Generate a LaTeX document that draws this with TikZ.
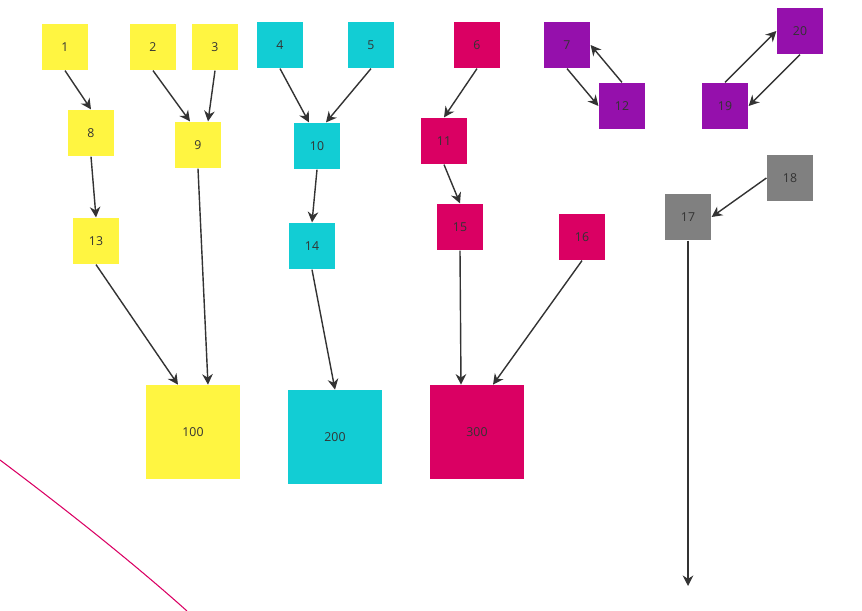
\documentclass[tikz,border=0pt]{standalone}
\usepackage{fontspec}
\setmainfont{Open Sans}
\usepackage{tikz}
\usepackage{xcolor}
\usetikzlibrary{arrows.meta,positioning}

\definecolor{stickyyellow}{HTML}{FFF541}
\definecolor{stickycyan}{HTML}{12CDD4}
\definecolor{stickypink}{HTML}{DA0063}
\definecolor{stickypurple}{HTML}{9510AC}
\definecolor{stickygray}{HTML}{808080}
\definecolor{inkgray}{HTML}{333333}

\tikzset{
    sticky/.style={rectangle, minimum size=0.93cm, inner sep=0pt, text=inkgray,
        font=\fontsize{7}{8}\selectfont},
    bigsticky/.style={sticky, minimum size=1.88cm},
    link/.style={->, draw=inkgray, thick, >={Stealth[length=6pt,width=6pt]}}
}

\begin{document}
\begin{tikzpicture}[x=0.02cm, y=-0.02cm]
            % Fix the canvas
            \useasboundingbox (0,0) rectangle (862,611);

            % Yellow notes
            \foreach \n/\x/\y in {1/65/47, 2/153/47, 3/215/47, 8/91/133, 9/198/145, 13/96/241}
                \node[sticky, fill=stickyyellow] (n\n) at (\x,\y) {\n};
            \node[bigsticky, fill=stickyyellow] (n100) at (193,432) {100};

            % Cyan notes
            \foreach \n/\x/\y in {4/280/45, 5/371/45, 10/317/146, 14/312/246}
                \node[sticky, fill=stickycyan] (n\n) at (\x,\y) {\n};
            \node[bigsticky, fill=stickycyan] (n200) at (335,437) {200};

            % Pink notes
            \foreach \n/\x/\y in {6/477/45, 11/444/141, 15/460/227, 16/582/237}
                \node[sticky, fill=stickypink] (n\n) at (\x,\y) {\n};
            \node[bigsticky, fill=stickypink] (n300) at (477,432) {300};

            % Purple and gray notes
            \foreach \n/\x/\y in {7/567/45, 12/622/106, 19/725/106, 20/800/31}
                \node[sticky, fill=stickypurple] (n\n) at (\x,\y) {\n};
            \foreach \n/\x/\y in {17/688/217, 18/790/178}
                \node[sticky, fill=stickygray] (n\n) at (\x,\y) {\n};
            \coordinate (end17) at (688,586);

            % Links into the second row
            \draw[link] (n1.south) -- (n8.north);
            \draw[link] (n2.south) -- ([xshift=-0.16cm]n9.north);
            \draw[link] (n3.south) -- ([xshift=0.2cm]n9.north);
            \draw[link] (n4.south) -- ([xshift=-0.16cm]n10.north);
            \draw[link] (n5.south) -- ([xshift=0.18cm]n10.north);
            \draw[link] (n6.south) -- (n11.north);

            % Pairs pointing both ways
            \draw[link] (n7.south) -- (n12.west);
            \draw[link] (n12.north) -- (n7.east);
            \draw[link] (n19.north) -- (n20.west);
            \draw[link] (n20.south) -- (n19.east);
            \draw[link] (n18.west) -- (n17.east);
            \draw[link] (n17.south) -- (end17);

            % Links down to the big notes
            \draw[link] (n8.south) -- (n13.north);
            \draw[link] (n10.south) -- (n14.north);
            \draw[link] (n11.south) -- (n15.north);
            \draw[link] (n13.south) -- ([xshift=-0.3cm]n100.north);
            \draw[link] (n9.south) -- ([xshift=0.3cm]n100.north);
            \draw[link] (n14.south) -- (n200.north);
            \draw[link] (n15.south) -- ([xshift=-0.32cm]n300.north);
            \draw[link] (n16.south) -- ([xshift=0.32cm]n300.north);

            % Loose pink stroke
            \draw[stickypink, semithick] (0,460) .. controls (60,505) and (130,560) .. (187,611);
        \end{tikzpicture}
\end{document}
